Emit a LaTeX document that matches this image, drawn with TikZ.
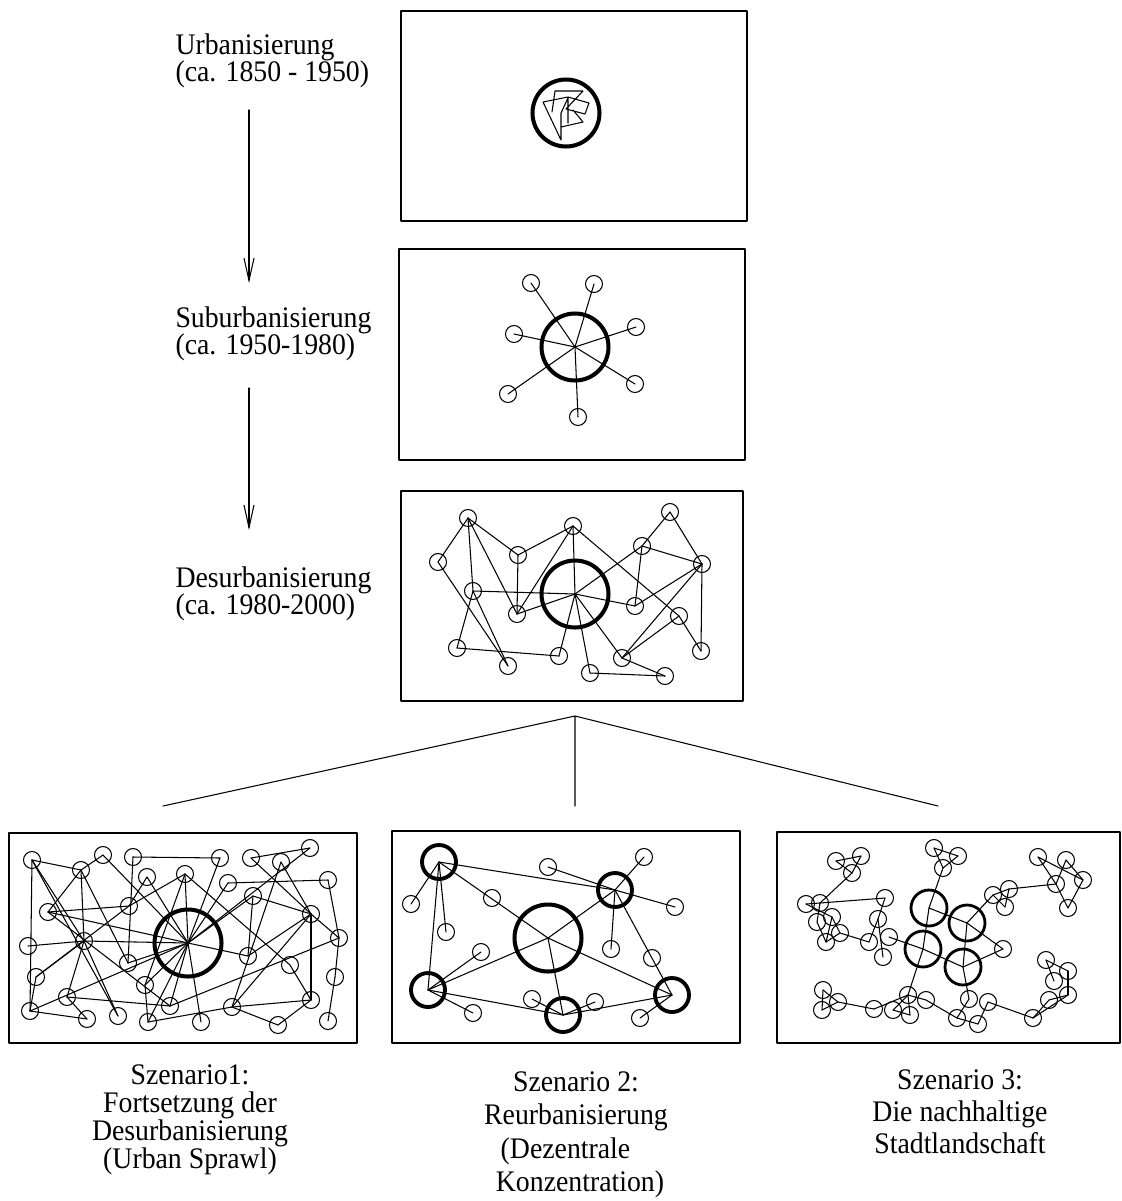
\documentclass[tikz,border=0pt]{standalone}
\usepackage{fontspec}
\setmainfont{Liberation Serif}
\newfontfamily\labelserif[FakeStretch=0.93]{Liberation Serif}
\usetikzlibrary{arrows.meta}

\begin{document}
\begin{tikzpicture}[x=0.02cm,y=-0.02cm,line cap=round,line join=round,line width=0.6pt,
  >={Straight Barb[length=4.5mm,width=2mm]},
  town/.style={draw,circle,inner sep=0pt,minimum size=0.34cm},
  core/.style={draw,circle,inner sep=0pt,minimum size=1.34cm,line width=2.3pt},
  subcore/.style={draw,circle,inner sep=0pt,minimum size=0.68cm,line width=2.2pt},
  cluster/.style={draw,circle,inner sep=0pt,minimum size=0.72cm,line width=1.6pt},
  stage/.style={font=\labelserif\fontsize{17}{15.5}\selectfont,align=left,inner sep=0pt,anchor=west},
  scen/.style={align=center,inner sep=0pt,anchor=north}]
\useasboundingbox (0,0) rectangle (1122,1201);

% stages
\node[stage] (urb) at (175,61) {Urbanisierung\\(ca. 1850 - 1950)};
\node[stage] (sub) at (175,334) {Suburbanisierung\\(ca. 1950-1980)};
\node[stage] (des) at (175,594) {Desurbanisierung\\(ca. 1980-2000)};
\coordinate (ar1) at (249,110); \coordinate (ar1e) at (249,283);
\coordinate (ar2) at (249,388); \coordinate (ar2e) at (249,530);
\draw[->] (ar1)--(ar1e);
\draw[->] (ar2)--(ar2e);

% panels
\draw (401,11) rectangle (747,221);
\draw (399,249) rectangle (745,460);
\draw (401,491) rectangle (743,701);
\draw (9,833) rectangle (357,1043);
\draw (392,831) rectangle (740,1043);
\draw (777,832) rectangle (1120,1043);

% fan
\coordinate (fan) at (575,716);
\coordinate (fan1) at (163,806); \coordinate (fan2) at (575,806); \coordinate (fan3) at (938,806);
\draw (fan)--(fan1) (fan)--(fan2) (fan)--(fan3);

% urbanisierung
\node[core] (z1) at (566,113) {};
\draw (555,91)--(583,91)--(566,109)--(585,114)--(589,103)--(568,97)--(543,102)--(561,140)--(561,113)--(568,98)--(568,123)
  (561,127)--(583,122)--(573,110) (555,91)--(552,112);

% suburbanisierung
\node[core] (z2) at (575,347) {};
\foreach \n/\x/\y in {b1/531/283,b2/594/284,b3/636/327,b4/514/334,b5/508/394,b6/578/417,b7/635/384}
  {\node[town] (\n) at (\x,\y) {}; \draw (z2.center)--(\n.center);}

% desurbanisierung
\node[core] (z3) at (575,594) {};
\foreach \n/\x/\y in {dA/468/518,dB/573/526,dC/670/512,dD/642/546,dE/518/555,dF/438/562,dG/702/564,dH/473/591,dI/635/606,
  dJ/517/614,dK/679/616,dL/457/648,dM/559/656,dN/701/651,dO/622/658,dP/508/666,dQ/590/673,dR/665/676}
  \node[town] (\n) at (\x,\y) {};
\foreach \a/\b in {dA/dF,dA/dE,dA/dH,dA/dJ,dE/dB,dE/dJ,dB/dJ,dB/z3,dB/dK,dK/dN,dF/dP,dH/z3,dH/dL,dH/dP,dJ/z3,dL/dM,dM/z3,
  dQ/z3,dQ/dR,dO/z3,dO/dR,dO/dG,dO/dK,z3/dD,z3/dI,dD/dI,dD/dG,dC/dD,dC/dG,dI/dG,dG/dN}
  \draw (\a.center)--(\b.center);

% szenario 1
\node[core] (z4) at (188,943) {};
\foreach \n/\x/\y in {a1/32/860,a2/81/870,a3/103/855,a4/133/857,a5/220/858,a6/251/858,a7/310/848,a8/281/862,a9/147/877,
  a10/185/874,a11/228/883,a12/328/880,a13/253/896,a14/48/912,a15/129/906,a16/311/914,a17/339/938,a18/84/941,a19/28/946,
  a20/248/956,a21/128/963,a22/290/965,a23/36/977,a24/145/985,a25/335/977,a26/67/997,a27/170/1006,a28/311/1000,a29/232/1007,
  a30/30/1011,a31/87/1019,a32/118/1016,a33/148/1022,a34/201/1022,a35/278/1025,a36/328/1021}
  \node[town] (\n) at (\x,\y) {};
\foreach \a/\b in {a1/a2,a1/a30,a1/a18,a1/a32,a2/a3,a2/a14,a2/a18,a2/a21,a3/z4,a4/a5,a4/a21,a5/z4,a6/a7,a6/a16,a7/z4,a13/z4,
  a8/a16,a8/a29,a9/a15,a9/z4,a10/a15,a10/z4,a10/a22,a10/a24,a11/a12,a11/z4,a12/a17,a17/a25,a25/a36,a13/a20,a13/a16,a16/a20,
  a16/a28,a16/a29,a16/a17,a14/a15,a14/z4,a14/a27,a18/z4,a18/a19,a18/a26,a21/z4,a15/a23,a23/a30,a26/a31,a26/a27,a30/z4,a30/a31,
  a27/a17,a27/z4,a24/z4,a33/z4,a34/z4,a33/a29,a29/a28,a29/a35,a35/a28,a20/z4,a22/a28,a18/a32,a24/a33,a23/a18}
  \draw (\a.center)--(\b.center);

% szenario 2
\node[core] (z5) at (548,938) {};
\foreach \n/\x/\y in {m1/439/862,m2/615/890,m3/428/990,m4/563/1015,m5/672/995}
  \node[subcore] (\n) at (\x,\y) {};
\foreach \n/\x/\y in {s1/411/904,s2/446/932,s3/492/898,s4/548/867,s5/644/857,s6/675/907,s7/611/949,s8/481/952,s9/652/958,
  s10/473/1013,s11/532/999,s12/595/1002,s13/640/1018}
  \node[town] (\n) at (\x,\y) {};
\foreach \a/\b in {m1/s1,m1/s2,m1/m3,m1/m2,m1/z5,s4/m2,m2/s5,m2/s6,m2/s7,m2/z5,m2/m5,z5/m3,z5/m4,z5/m5,m3/s8,m3/s10,m3/m4,
  m4/s11,m4/s12,m4/m5,m5/s13}
  \draw (\a.center)--(\b.center);

% szenario 3
\foreach \n/\x/\y in {L1/929/908,L2/967/923,L3/923/949,L4/963/967}
  \node[cluster] (\n) at (\x,\y) {};
\foreach \n/\x/\y in {t1/836/861,t2/861/856,t3/852/873,u1/806/904,u2/820/903,u3/817/922,u4/832/917,u5/840/933,u6/826/942,
  u7/885/898,u8/878/919,u9/869/942,u10/889/937,u11/883/957,v1/934/848,v2/958/856,v3/943/868,w1/993/895,w2/1009/889,
  w3/1005/907,x1/1038/857,x2/1066/860,x3/1083/880,x4/1056/884,x5/1068/908,y1/1003/949,r1/1046/960,r2/1068/971,r3/1054/981,
  r4/1068/995,r5/1049/1000,r6/1033/1018,b1/969/999,b2/988/1002,b3/957/1018,b4/978/1024,c1/823/990,c2/838/1002,c3/822/1010,
  c4/874/1009,c5/893/1010,c6/908/995,c7/910/1015,c8/926/1000}
  \node[town] (\n) at (\x,\y) {};
\foreach \a/\b in {v3/L1,L1/L2,L1/L3,L3/c6,u10/L3,L3/L4,L2/L4,L2/w1,L2/y1,L4/y1,L4/b1,v1/v2,v1/v3,v2/v3,w1/w2,w1/w3,w2/w3,
  w2/x4,x1/x3,x1/x4,x2/x4,x2/x3,x3/x5,x4/x5,r1/r3,r1/r2,r2/r4,r4/r5,r4/r6,r5/r6,b1/b3,b3/b4,b4/b2,b2/r6,c1/c2,c1/c3,c3/c2,
  c2/c4,c4/c6,c5/c6,c6/c7,c5/c7,c6/c8,c8/b3,t1/t2,t1/t3,t2/t3,t3/u2,u1/u2,u1/u4,u2/u3,u3/u6,u4/u6,u4/u5,u5/u6,u2/u7,u7/u8,
  u8/u11,u8/u9,u5/u9}
  \draw (\a.center)--(\b.center);

% szenarien
\node[scen,font=\labelserif\fontsize{17}{16}\selectfont] (sz1) at (190,1064) {Szenario1:\\Fortsetzung der\\Desurbanisierung\\(Urban Sprawl)};
\node[scen,font=\labelserif\fontsize{17}{19}\selectfont] (sz2) at (576,1071)
  {Szenario 2:\\Reurbanisierung\\(Dezentrale\rule{0.42cm}{0pt}\\\rule{0.16cm}{0pt}Konzentration)};
\node[scen,font=\labelserif\fontsize{17}{18.2}\selectfont] (sz3) at (960,1069) {Szenario 3:\\Die nachhaltige\\Stadtlandschaft};
\end{tikzpicture}
\end{document}
